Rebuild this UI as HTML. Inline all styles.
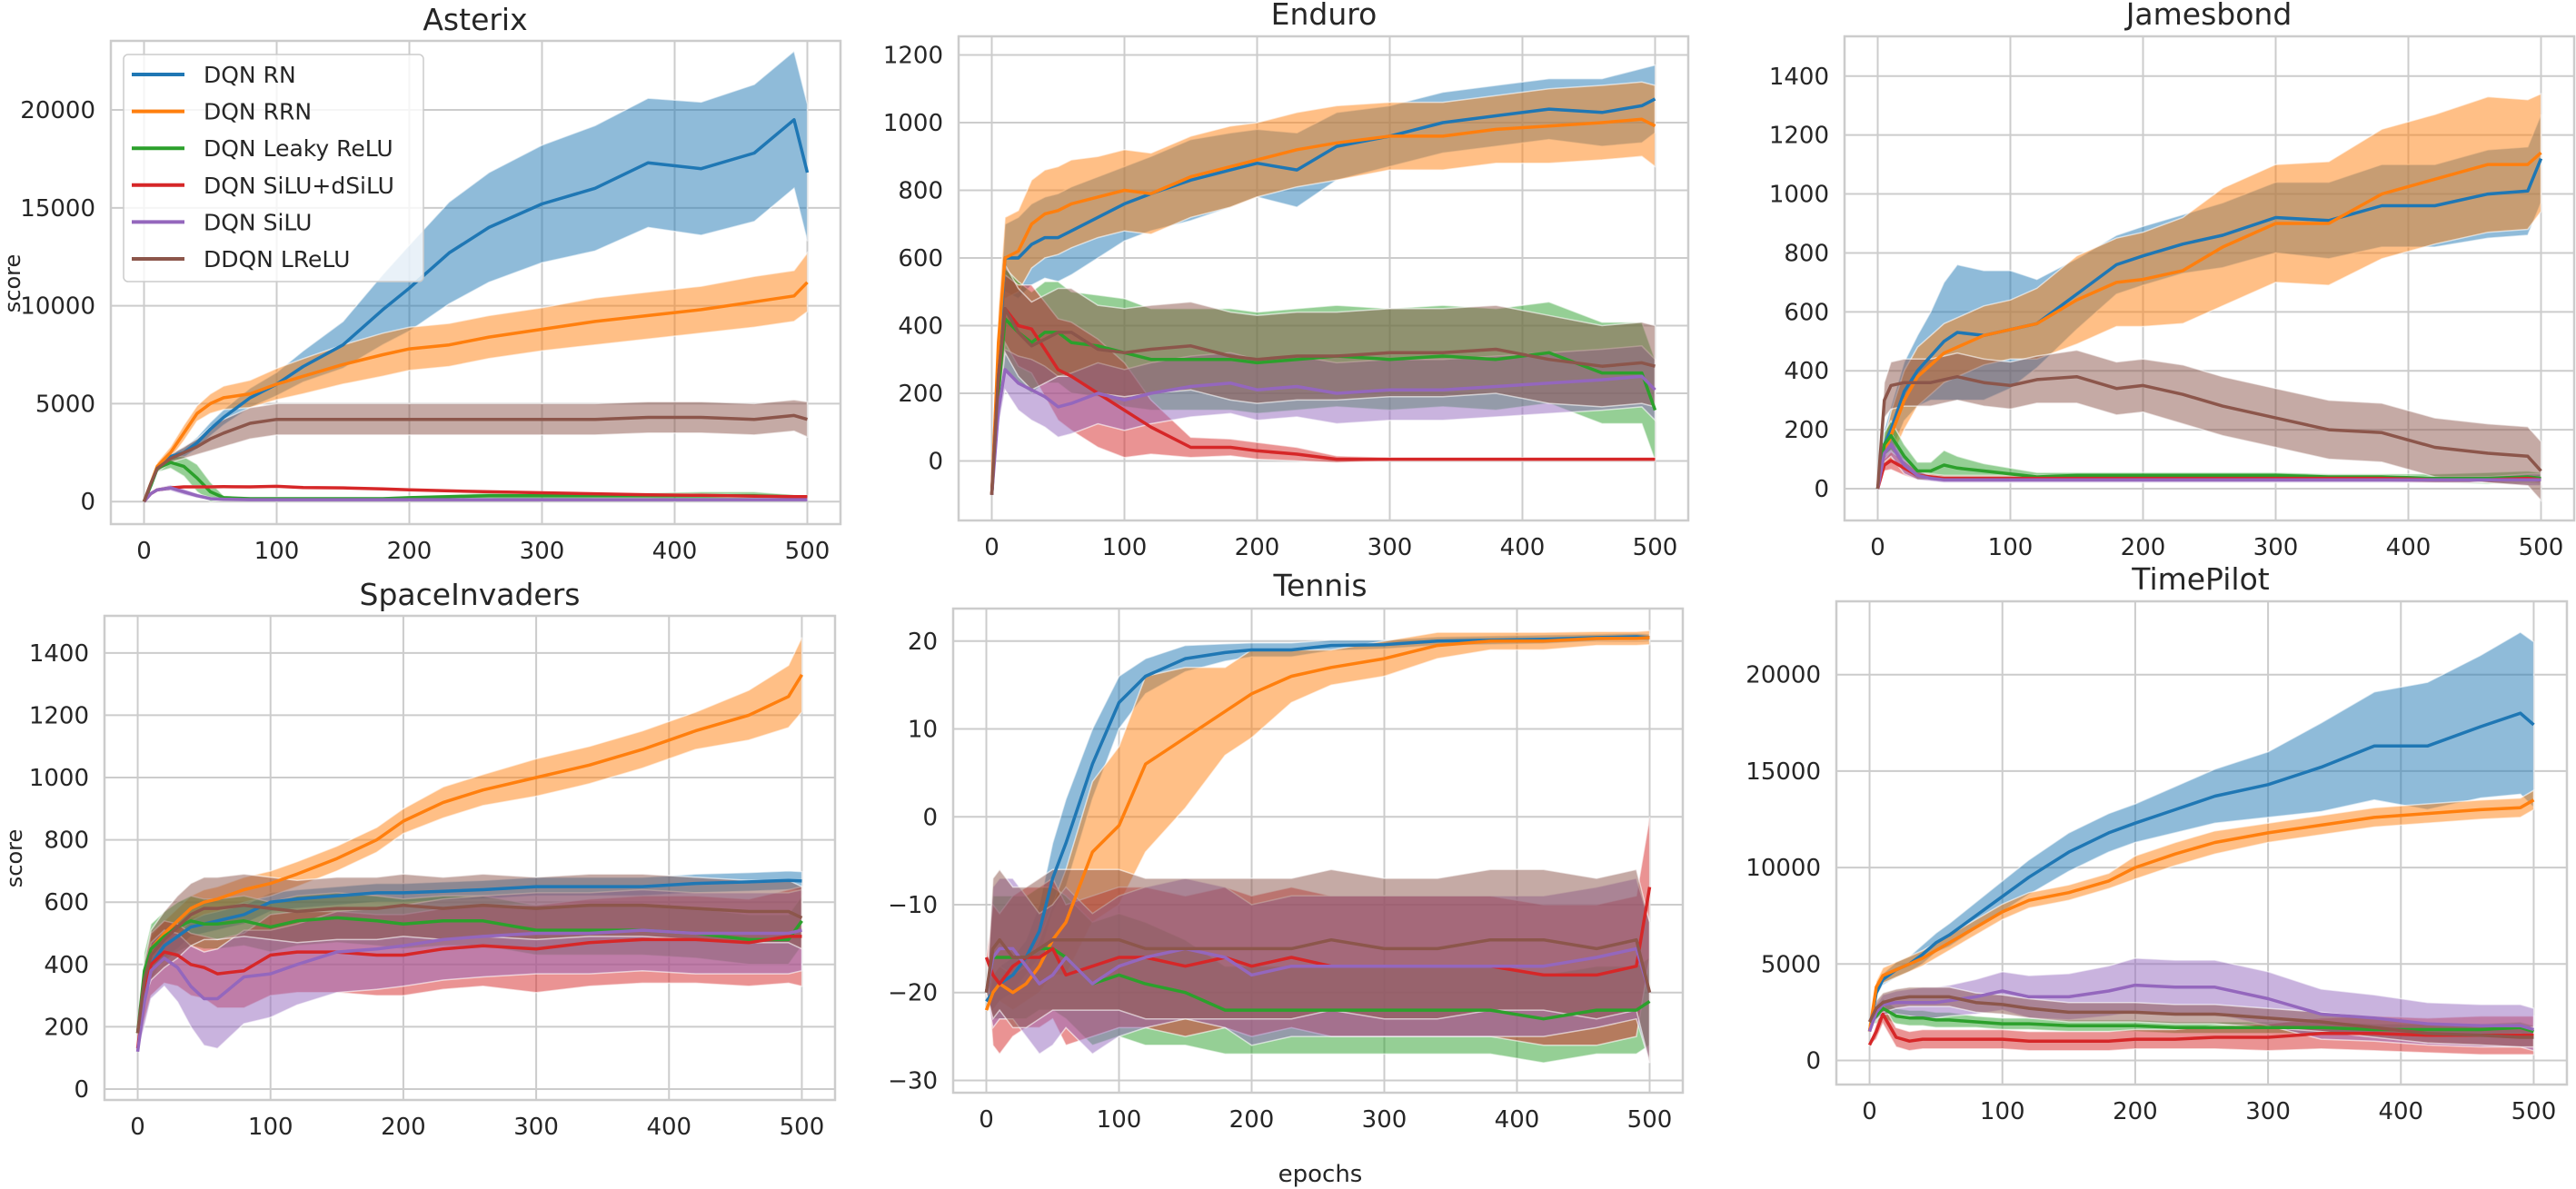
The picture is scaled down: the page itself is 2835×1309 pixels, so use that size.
<!DOCTYPE html>
<html><head><meta charset="utf-8">
<style>
html,body{margin:0;padding:0;background:#fff;}
svg{display:block;font-family:"DejaVu Sans","Liberation Sans",sans-serif;}
</style></head>
<body>
<svg id="fig" width="2835" height="1309" viewBox="0 0 2835 1309"></svg>
<script>
// shared epoch sample points
const epochs = [0,5,10,20,30,40,50,60,80,100,120,150,180,200,230,260,300,340,380,420,460,490,500];
const seriesNames = ["DQN RN","DQN RRN","DQN Leaky ReLU","DQN SiLU+dSiLU","DQN SiLU","DDQN LReLU"];
const colors = ["#1f77b4","#ff7f0e","#2ca02c","#d62728","#9467bd","#8c564b"];

// Asterix
const asterix_rn = [0,800,1700,2300,2500,3000,3700,4300,5300,6000,6900,8000,9800,10900,12700,14000,15200,16000,17300,17000,17800,19500,16800];
const asterix_rn_sd = [0,100,200,200,250,300,350,400,500,600,800,1200,1800,2200,2600,2800,3000,3200,3300,3400,3500,3500,3500];
const asterix_rrn = [0,900,1800,2500,3500,4500,5000,5300,5500,6000,6400,7000,7500,7800,8000,8400,8800,9200,9500,9800,10200,10500,11200];
const asterix_rrn_sd = [0,100,200,300,400,400,500,600,700,800,900,1000,1100,1100,1100,1100,1100,1200,1200,1200,1300,1300,1500];
const asterix_leaky = [0,800,1700,2000,1800,1200,500,200,150,150,150,150,150,200,250,300,300,300,300,300,300,250,200];
const asterix_leaky_sd = [0,100,200,300,500,700,500,100,80,80,80,80,80,80,100,150,200,150,150,200,200,100,100];
const asterix_dsilu = [0,400,600,700,750,750,750,760,750,780,720,700,650,600,550,500,450,400,350,320,280,250,250];
const asterix_dsilu_sd = [0,50,60,60,60,60,60,60,60,60,60,60,60,60,60,60,60,60,60,60,60,60,60];
const asterix_silu = [0,400,600,700,500,300,150,120,100,100,100,100,100,100,100,100,100,100,100,100,100,100,100];
const asterix_silu_sd = [0,80,100,150,150,120,60,40,30,30,30,30,30,30,30,30,30,30,30,30,30,30,30];
const asterix_ddqn = [0,900,1700,2200,2500,2800,3200,3500,4000,4200,4200,4200,4200,4200,4200,4200,4200,4200,4300,4300,4200,4400,4200];
const asterix_ddqn_sd = [0,100,200,200,300,400,600,700,800,800,800,800,800,800,800,800,800,800,800,800,800,800,900];

// Enduro
const enduro_rn = [-100,300,600,600,640,660,660,680,720,760,790,830,860,880,860,930,960,1000,1020,1040,1030,1050,1070];
const enduro_rn_sd = [0,80,100,120,120,120,130,130,120,110,110,120,110,100,110,100,90,90,90,90,100,110,100];
const enduro_rrn = [-100,350,600,620,700,730,740,760,780,800,790,840,870,890,920,940,960,960,980,990,1000,1010,990];
const enduro_rrn_sd = [0,100,120,120,130,130,130,130,120,120,120,120,120,110,110,110,100,100,100,110,110,110,120];
const enduro_leaky = [-100,200,420,380,350,380,380,350,340,320,300,300,300,290,300,310,300,310,300,320,260,260,150];
const enduro_leaky_sd = [0,100,150,150,150,150,150,150,150,160,150,150,150,150,150,150,150,150,150,150,150,150,150];
const enduro_dsilu = [-100,250,450,400,390,330,270,250,200,150,100,40,40,30,20,5,5,5,5,5,5,5,5];
const enduro_dsilu_sd = [0,100,100,120,130,140,150,160,160,140,80,30,25,25,20,10,5,5,5,5,5,5,5];
const enduro_silu = [-100,150,270,230,210,190,160,170,200,180,200,220,230,210,220,200,210,210,220,230,240,250,210];
const enduro_silu_sd = [0,50,60,80,90,90,90,90,90,90,90,90,90,90,90,90,90,90,90,90,90,90,90];
const enduro_ddqn = [-100,250,450,380,340,360,380,380,330,320,330,340,310,300,310,310,320,320,330,300,280,290,280];
const enduro_ddqn_sd = [0,100,130,130,130,130,130,130,130,130,130,130,130,130,130,130,130,130,130,130,120,120,120];

// Jamesbond
const james_rn = [0,150,200,330,400,450,500,530,520,540,560,660,760,790,830,860,920,910,960,960,1000,1010,1120];
const james_rn_sd = [0,50,80,100,120,150,200,230,220,200,150,120,100,100,100,110,120,130,140,140,150,150,150];
const james_rrn = [0,120,180,300,380,420,460,480,520,540,560,640,700,710,740,820,900,900,1000,1050,1100,1100,1140];
const james_rrn_sd = [0,50,80,100,100,100,100,100,100,100,120,150,150,160,180,200,200,210,220,220,230,220,200];
const james_leaky = [0,150,180,110,60,60,80,70,60,50,40,45,45,45,45,45,45,40,40,35,35,40,35];
const james_leaky_sd = [0,40,50,40,30,30,50,40,25,20,15,10,10,10,10,10,10,10,10,15,20,20,20];
const james_dsilu = [0,80,95,70,45,40,35,35,35,35,35,35,35,35,35,35,35,35,35,30,30,35,30];
const james_dsilu_sd = [0,20,30,25,15,10,10,10,10,10,10,10,10,10,10,10,10,10,10,10,10,10,10];
const james_silu = [0,120,150,80,45,35,30,30,30,30,30,30,30,30,30,30,30,30,30,30,30,30,30];
const james_silu_sd = [0,30,40,30,15,10,10,10,10,10,10,10,10,10,10,10,10,10,10,10,10,20,20];
const james_ddqn = [0,300,350,360,360,360,370,380,360,350,370,380,340,350,320,280,240,200,190,140,120,110,60];
const james_ddqn_sd = [0,60,80,80,80,80,80,80,80,80,80,90,90,90,100,100,100,100,100,100,100,100,100];

// SpaceInvaders
const space_rn = [180,300,400,460,490,520,530,540,560,600,610,620,630,630,635,640,650,650,650,660,665,670,668];
const space_rn_sd = [0,40,50,40,40,30,30,30,30,30,30,30,30,30,30,30,30,30,30,30,30,30,30];
const space_rrn = [180,350,450,500,540,580,600,610,640,660,690,740,800,860,920,960,1000,1040,1090,1150,1200,1260,1330];
const space_rrn_sd = [0,40,40,40,40,40,40,40,40,40,40,40,40,40,50,50,60,60,60,60,80,100,120];
const space_leaky = [180,380,450,490,520,540,530,530,540,520,540,550,540,530,540,540,510,510,510,500,480,480,540];
const space_leaky_sd = [0,60,80,80,80,80,80,80,80,80,80,80,80,80,80,80,80,80,80,80,80,80,80];
const space_dsilu = [130,300,400,440,430,400,390,370,380,430,440,440,430,430,450,460,450,470,480,480,470,490,490];
const space_dsilu_sd = [0,80,100,100,100,100,100,110,120,130,130,130,130,130,130,130,140,140,140,140,140,150,160];
const space_silu = [120,280,380,420,390,330,290,290,360,370,400,440,450,460,480,490,500,500,510,500,500,500,510];
const space_silu_sd = [0,80,90,90,110,130,150,160,150,140,130,130,130,130,130,130,130,130,130,130,130,130,130];
const space_ddqn = [180,350,430,480,520,560,580,580,590,580,570,580,580,590,580,590,580,590,590,580,570,570,550];
const space_ddqn_sd = [0,60,80,90,100,100,100,100,100,100,100,100,100,100,100,100,100,100,100,100,100,100,100];

// Tennis
const tennis_rn = [-21,-20,-19,-18,-16,-13,-7,-3,6,13,16,18,18.7,19,19,19.5,19.6,20,20.1,20.2,20.4,20.5,20.4];
const tennis_rn_sd = [0,2,2,2,2,3,4,5,4,3,2,1.5,1,0.8,0.8,0.6,0.5,0.5,0.5,0.5,0.4,0.4,0.4];
const tennis_rrn = [-22,-20,-19,-20,-19,-17,-14,-12,-4,-1,6,9,12,14,16,17,18,19.5,20,20,20.3,20.3,20.4];
const tennis_rrn_sd = [0,2,2,2,2,3,4,6,8,9,10,8,5,5,3,2,2,1.5,1,1,0.8,0.8,0.8];
const tennis_leaky = [-20,-16,-16,-16,-16,-15,-15,-16,-19,-18,-19,-20,-22,-22,-22,-22,-22,-22,-22,-23,-22,-22,-21];
const tennis_leaky_sd = [0,7,7,7,7,7,7,7,7,7,7,6,5,5,5,5,5,5,5,5,5,5,5];
const tennis_dsilu = [-16,-18,-19,-17,-16,-16,-15,-18,-17,-16,-16,-17,-16,-17,-16,-17,-17,-17,-17,-18,-18,-17,-8];
const tennis_dsilu_sd = [0,8,8,8,8,8,8,8,8,8,8,8,8,8,8,8,8,8,8,8,8,8,8];
const tennis_silu = [-20,-16,-15,-15,-17,-19,-18,-16,-19,-17,-16,-15,-16,-18,-17,-17,-17,-17,-17,-17,-16,-15,-20];
const tennis_silu_sd = [0,8,8,8,8,8,8,8,8,8,8,8,8,8,8,8,8,8,8,8,8,8,8];
const tennis_ddqn = [-20,-15,-14,-16,-16,-15,-14,-14,-14,-14,-15,-15,-15,-15,-15,-14,-15,-15,-14,-14,-15,-14,-20];
const tennis_ddqn_sd = [0,8,8,8,8,8,8,8,8,8,8,8,8,8,8,8,8,8,8,8,8,8,8];

// TimePilot
const time_rn = [1500,3500,4200,4700,5000,5500,6100,6500,7500,8500,9500,10800,11800,12300,13000,13700,14300,15200,16300,16300,17300,18000,17400];
const time_rn_sd = [0,200,300,400,400,500,500,600,700,800,900,1000,1000,1000,1200,1400,1700,2300,2800,3300,3700,4200,4300];
const time_rrn = [1500,3800,4400,4700,5000,5300,5700,6100,6900,7700,8300,8700,9300,10000,10700,11300,11800,12200,12600,12800,13000,13100,13500];
const time_rrn_sd = [0,300,400,400,400,400,400,400,400,400,400,400,400,600,600,600,500,500,500,500,500,500,500];
const time_leaky = [2000,2300,2700,2300,2200,2200,2100,2100,2000,1900,1900,1800,1800,1800,1700,1700,1700,1700,1600,1600,1600,1700,1500];
const time_leaky_sd = [0,400,500,400,400,400,400,400,300,300,300,300,300,300,300,300,300,300,300,300,300,300,300];
const time_dsilu = [800,1500,2400,1200,1000,1100,1100,1100,1100,1100,1000,1000,1000,1100,1100,1200,1200,1400,1400,1300,1300,1300,1300];
const time_dsilu_sd = [0,400,500,500,500,500,500,500,500,500,500,500,500,500,500,600,700,800,900,900,1000,1000,1000];
const time_silu = [1500,2500,2900,3000,3000,3000,3000,3100,3300,3600,3300,3300,3600,3900,3800,3800,3200,2400,2200,1900,1800,1800,1600];
const time_silu_sd = [0,400,500,600,700,800,800,800,900,1000,1100,1200,1300,1400,1400,1400,1400,1300,1200,1100,1100,1100,1100];
const time_ddqn = [2000,2700,3000,3200,3300,3300,3300,3300,3000,2900,2700,2500,2500,2500,2400,2400,2200,2000,1700,1400,1300,1200,1200];
const time_ddqn_sd = [0,400,500,500,500,500,500,500,500,500,500,500,500,500,500,500,500,500,500,500,500,500,500];

// tick labels
const asterixTicks = [0,5000,10000,15000,20000];
const enduroTicks = [0,200,400,600,800,1000,1200];
const jamesTicks = [0,200,400,600,800,1000,1200,1400];
const spaceTicks = [0,200,400,600,800,1000,1200,1400];
const tennisTicks = [-30,-20,-10,0,10,20];
const timeTicks = [0,5000,10000,15000,20000];
const xTicks = [0,100,200,300,400,500];

const panels = [
 {name:"asterix",title:"Asterix",L:122,R:925,T:45,B:577,y0:-1150,y1:23527,ticks:asterixTicks,tx:523,ty:33,
  means:[asterix_rn,asterix_rrn,asterix_leaky,asterix_dsilu,asterix_silu,asterix_ddqn],
  sds:[asterix_rn_sd,asterix_rrn_sd,asterix_leaky_sd,asterix_dsilu_sd,asterix_silu_sd,asterix_ddqn_sd]},
 {name:"enduro",title:"Enduro",L:1055,R:1858,T:40,B:573,y0:-176,y1:1255,ticks:enduroTicks,tx:1457,ty:27,
  means:[enduro_rn,enduro_rrn,enduro_leaky,enduro_dsilu,enduro_silu,enduro_ddqn],
  sds:[enduro_rn_sd,enduro_rrn_sd,enduro_leaky_sd,enduro_dsilu_sd,enduro_silu_sd,enduro_ddqn_sd]},
 {name:"jamesbond",title:"Jamesbond",L:2030,R:2833,T:40,B:573,y0:-108,y1:1535,ticks:jamesTicks,tx:2431,ty:27,
  means:[james_rn,james_rrn,james_leaky,james_dsilu,james_silu,james_ddqn],
  sds:[james_rn_sd,james_rrn_sd,james_leaky_sd,james_dsilu_sd,james_silu_sd,james_ddqn_sd]},
 {name:"spaceinvaders",title:"SpaceInvaders",L:115,R:919,T:678,B:1211,y0:-35,y1:1519,ticks:spaceTicks,tx:517,ty:666,
  means:[space_rn,space_rrn,space_leaky,space_dsilu,space_silu,space_ddqn],
  sds:[space_rn_sd,space_rrn_sd,space_leaky_sd,space_dsilu_sd,space_silu_sd,space_ddqn_sd]},
 {name:"tennis",title:"Tennis",L:1049,R:1852,T:670,B:1203,y0:-31.4,y1:23.7,ticks:tennisTicks,tx:1453,ty:656,
  means:[tennis_rn,tennis_rrn,tennis_leaky,tennis_dsilu,tennis_silu,tennis_ddqn],
  sds:[tennis_rn_sd,tennis_rrn_sd,tennis_leaky_sd,tennis_dsilu_sd,tennis_silu_sd,tennis_ddqn_sd]},
 {name:"timepilot",title:"TimePilot",L:2021,R:2825,T:662,B:1194,y0:-1250,y1:23800,ticks:timeTicks,tx:2422,ty:649,
  means:[time_rn,time_rrn,time_leaky,time_dsilu,time_silu,time_ddqn],
  sds:[time_rn_sd,time_rrn_sd,time_leaky_sd,time_dsilu_sd,time_silu_sd,time_ddqn_sd]}
];

const NS="http://www.w3.org/2000/svg";
const svg=document.getElementById("fig");
function mk(tag,attrs,parent){const e=document.createElementNS(NS,tag);for(const k in attrs)e.setAttribute(k,attrs[k]);(parent||svg).appendChild(e);return e;}
function fmt(v){return v<0?"\u2212"+Math.abs(v):String(v);}

panels.forEach(p=>{
  const g=mk("g",{});
  
  
  const xs=v=>p.L+(v+25)/550*(p.R-p.L);
  const ys=v=>p.B-(v-p.y0)/(p.y1-p.y0)*(p.B-p.T);
  // grid
  xTicks.forEach(t=>{
    const l=mk("line",{x1:xs(t),x2:xs(t),y1:p.T,y2:p.B,stroke:"#cccccc","stroke-width":2},g);
    
    
    const tx=mk("text",{x:xs(t),y:p.B+38,"text-anchor":"middle","font-size":26,fill:"#262626"},g);
    tx.textContent=fmt(t);
    
    
  });
  p.ticks.forEach(t=>{
    const l=mk("line",{x1:p.L,x2:p.R,y1:ys(t),y2:ys(t),stroke:"#cccccc","stroke-width":2},g);
    
    
    const tx=mk("text",{x:p.L-17,y:ys(t)+9,"text-anchor":"end","font-size":26,fill:"#262626"},g);
    tx.textContent=fmt(t);
    
    
  });
  // series
  const clip=mk("clipPath",{id:"c-"+p.name},g);
  mk("rect",{x:p.L,y:p.T,width:p.R-p.L,height:p.B-p.T},clip);
  const sg=mk("g",{"clip-path":"url(#c-"+p.name+")"},g);
  p.means.forEach((m,i)=>{
    const sd=p.sds[i];
    let up="",lo="";
    epochs.forEach((e,k)=>{up+=(k?"L":"M")+xs(e).toFixed(1)+","+ys(m[k]+sd[k]).toFixed(1);});
    for(let k=epochs.length-1;k>=0;k--){lo+="L"+xs(epochs[k]).toFixed(1)+","+ys(m[k]-sd[k]).toFixed(1);}
    const band=mk("path",{d:up+lo+"Z",fill:colors[i],"fill-opacity":0.5,stroke:"#ffffff","stroke-opacity":0.6,"stroke-width":1.5},sg);
    
    
  });
  p.means.forEach((m,i)=>{
    let d="";
    epochs.forEach((e,k)=>{d+=(k?"L":"M")+xs(e).toFixed(1)+","+ys(m[k]).toFixed(1);});
    const ln=mk("path",{d:d,fill:"none",stroke:colors[i],"stroke-width":3.5,"stroke-linejoin":"round"},sg);
    
    
  });
  const fr=mk("rect",{x:p.L,y:p.T,width:p.R-p.L,height:p.B-p.T,fill:"none",stroke:"#cccccc","stroke-width":2.5},g);
  
  
  const ti=mk("text",{x:p.tx,y:p.ty,"text-anchor":"middle","font-size":33,fill:"#262626"},g);
  ti.textContent=p.title;
  
  
});

// axis labels
const s1=mk("text",{x:0,y:0,transform:"translate(22,312) rotate(-90)","text-anchor":"middle","font-size":24,fill:"#262626"});
s1.textContent="score";


const s2=mk("text",{x:0,y:0,transform:"translate(24,945) rotate(-90)","text-anchor":"middle","font-size":24,fill:"#262626"});
s2.textContent="score";


const xl=mk("text",{x:1453,y:1301,"text-anchor":"middle","font-size":26,fill:"#262626"});
xl.textContent="epochs";



// legend
const lg=mk("g",{});


mk("rect",{x:136,y:60,width:330,height:250,rx:5,fill:"#ffffff","fill-opacity":0.8,stroke:"#cccccc","stroke-width":1.5},lg);
seriesNames.forEach((n,i)=>{
  const y=82+i*40.6;
  const ll=mk("line",{x1:145,x2:203,y1:y,y2:y,stroke:colors[i],"stroke-width":4},lg);
  
  
  const t=mk("text",{x:224,y:y+9,"font-size":25,fill:"#262626"},lg);
  t.textContent=n;
  
  
});
</script>
</body></html>
